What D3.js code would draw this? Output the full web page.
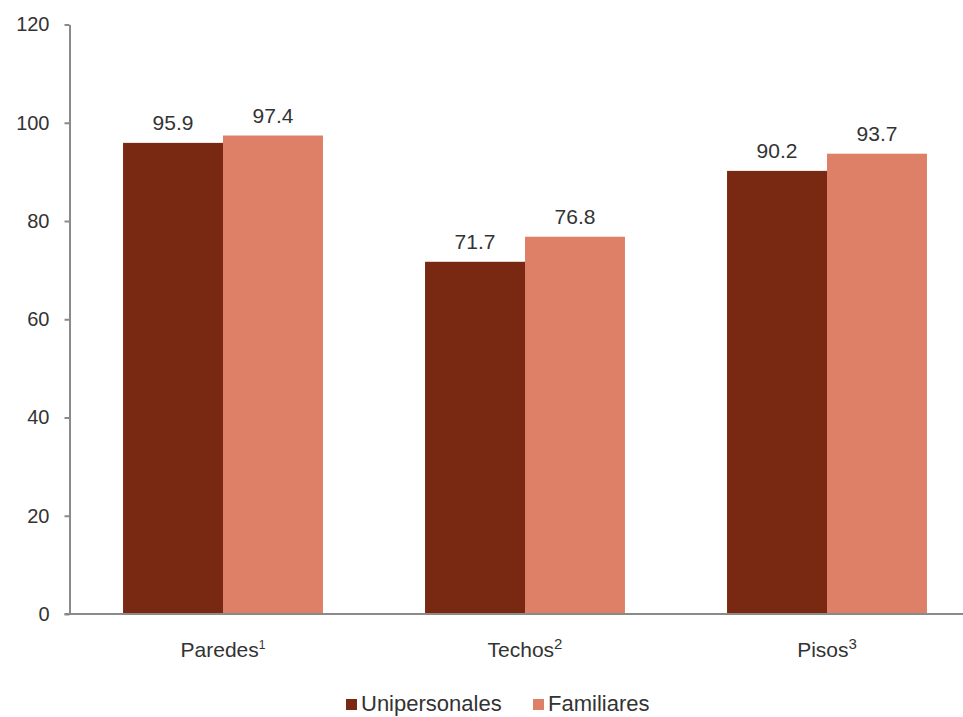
<!DOCTYPE html>
<html>
<head>
<meta charset="utf-8">
<script src="https://cdn.jsdelivr.net/npm/d3@7"></script>
<style>
  html, body { margin: 0; padding: 0; background: #fff; }
  text { font-family: "Liberation Sans", Arial, sans-serif; fill: #333; }
</style>
</head>
<body>
<svg id="chart" width="963" height="717"></svg>
<script>
const categories = ["Paredes", "Techos", "Pisos"];
const superscripts = ["1", "2", "3"];
const seriesNames = ["Unipersonales", "Familiares"];
const unipersonales = [95.9, 71.7, 90.2];
const familiares = [97.4, 76.8, 93.7];
const yTicks = [0, 20, 40, 60, 80, 100, 120];
const colors = ["#792811", "#DE7F67"];

(function () {
const svg = d3.select("#chart");
const plotLeft = 69.5, plotBottom = 614, plotTop = 24.5;

const y = d3.scaleLinear().domain([0, 120]).range([plotBottom, plotTop]);
const x = d3.scaleBand().domain(categories).range([72, 978])
  .paddingInner(0.338).paddingOuter(0.169);
const xs = d3.scaleBand().domain(seriesNames).range([0, x.bandwidth()]);

const data = categories.map((c, i) => ({
  cat: c, sup: superscripts[i],
  vals: [unipersonales[i], familiares[i]]
}));

// bars
const g = svg.append("g");
data.forEach(d => {
  d.vals.forEach((v, j) => {
    const bx = x(d.cat) + xs(seriesNames[j]);
    g.append("rect")
      .attr("x", bx).attr("y", y(v))
      .attr("width", xs.bandwidth()).attr("height", y(0) - y(v))
      .attr("fill", colors[j]);
    g.append("text")
      .attr("x", bx + xs.bandwidth() / 2)
      .attr("y", y(v) - 12.5)
      .attr("text-anchor", "middle")
      .style("font-size", "21px")
      .text(v.toFixed(1));
  });
});

// y axis
const yAxis = d3.axisLeft(y).tickValues(yTicks).tickSize(5).tickPadding(15).tickSizeOuter(0);
const ya = svg.append("g").attr("transform", `translate(${plotLeft},0)`).call(yAxis);
ya.select(".domain").attr("stroke", "#8a8a8a").attr("stroke-width", 2);
ya.selectAll(".tick line").attr("stroke", "#8a8a8a").attr("stroke-width", 2);
ya.selectAll(".tick text").style("font-size", "20px").attr("fill", "#333")
  .style("font-family", "'Liberation Sans', Arial, sans-serif");

// x axis line
svg.append("line")
  .attr("x1", plotLeft - 5).attr("x2", 963)
  .attr("y1", plotBottom).attr("y2", plotBottom)
  .attr("stroke", "#8a8a8a").attr("stroke-width", 2);

// category labels
data.forEach((d, i) => {
  const t = svg.append("text")
    .attr("x", x(d.cat) + x.bandwidth() / 2)
    .attr("y", 657)
    .attr("text-anchor", "middle")
    .style("font-size", "21px");
  t.append("tspan").text(d.cat);
  t.append("tspan").attr("dy", -8).style("font-size", i === 0 ? "12px" : "15px").text(d.sup);
});

// legend
const legendPos = [346, 533];
seriesNames.forEach((s, j) => {
  svg.append("rect")
    .attr("x", legendPos[j]).attr("y", 699)
    .attr("width", 11).attr("height", 11)
    .attr("fill", colors[j]);
  svg.append("text")
    .attr("x", legendPos[j] + 15).attr("y", 711)
    .style("font-size", "22px")
    .text(s);
});
})();
</script>
</body>
</html>
